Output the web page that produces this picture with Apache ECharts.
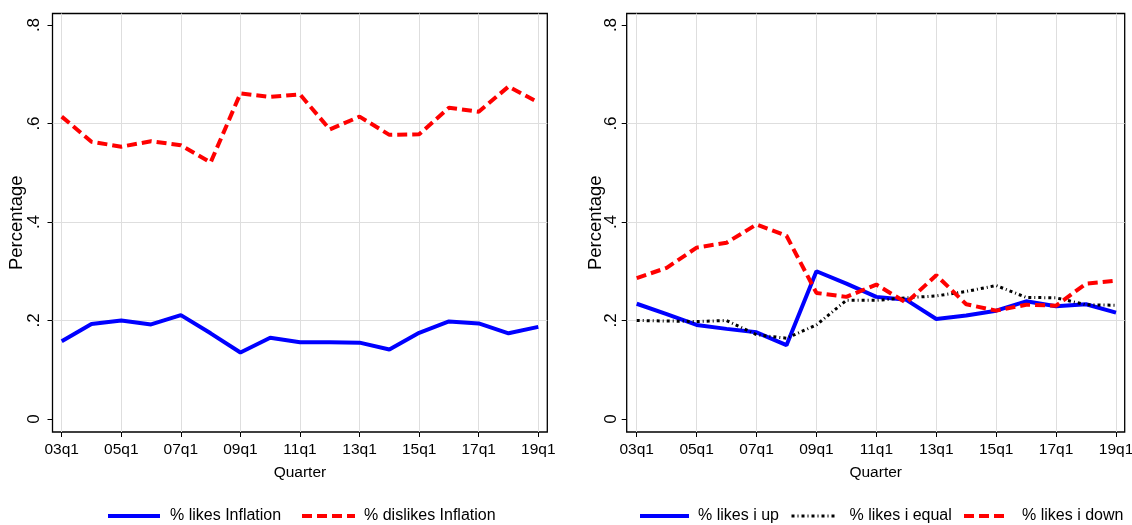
<!DOCTYPE html>
<html><head><meta charset="utf-8">
<script src="https://cdn.jsdelivr.net/npm/echarts@6/dist/echarts.min.js"></script>
<style>html,body{margin:0;padding:0;background:#fff}#c{width:1132px;height:525px}</style>
</head><body><div id="c"></div>
<script>
// ---- data ----
const quarters = ['03q1','04q1','05q1','06q1','07q1','08q1','09q1','10q1','11q1','12q1','13q1','14q1','15q1','16q1','17q1','18q1','19q1'];
const tickQuarters = ['03q1','05q1','07q1','09q1','11q1','13q1','15q1','17q1','19q1'];
const yTicks = [0, 0.2, 0.4, 0.6, 0.8];
const yTickLabels = ['0', '.2', '.4', '.6', '.8'];
const yGridTicks = [0.2, 0.4, 0.6];

const likesInflation    = [0.158,0.193,0.200,0.192,0.211,0.174,0.135,0.165,0.156,0.156,0.155,0.141,0.175,0.198,0.194,0.174,0.187];
const dislikesInflation = [0.614,0.563,0.553,0.564,0.556,0.521,0.661,0.654,0.659,0.588,0.614,0.577,0.578,0.632,0.624,0.675,0.643];

const likesIUp    = [0.234,0.213,0.191,0.183,0.176,0.150,0.300,0.275,0.248,0.242,0.203,0.210,0.220,0.239,0.229,0.233,0.216];
const likesIEqual = [0.200,0.199,0.198,0.200,0.171,0.164,0.191,0.241,0.241,0.246,0.250,0.259,0.271,0.247,0.246,0.232,0.231];
const likesIDown  = [0.286,0.307,0.348,0.358,0.395,0.372,0.256,0.248,0.273,0.236,0.292,0.233,0.220,0.232,0.230,0.275,0.281];

// ---- helpers ----
const FONT = '"Liberation Sans", Arial, sans-serif';
const pts = arr => quarters.map((q, i) => [i, arr[i]]);
const xTickIdx = tickQuarters.map(q => quarters.indexOf(q));
const Y_MIN = -0.0264, Y_MAX = 0.8234;

function xAxisFor(gi, min, max) {
  return {
    type: 'value', gridIndex: gi, min: min, max: max,
    axisLine: { show: false, onZero: false },
    axisTick: { show: true, length: 5, lineStyle: { color: '#000', width: 1 }, customValues: xTickIdx },
    axisLabel: { customValues: xTickIdx, formatter: v => quarters[Math.round(v)], color: '#000',
                 fontFamily: FONT, fontSize: 15.5, margin: 10, hideOverlap: false },
    splitLine: { show: true, lineStyle: { color: '#dedede', width: 1 } },
    name: 'Quarter', nameLocation: 'middle', nameGap: 33, nameMoveOverlap: false,
    nameTextStyle: { color: '#000', fontFamily: FONT, fontSize: 15.5 }
  };
}
function yAxesFor(gi, labelMargin, nameGap) {
  return [{
    type: 'value', gridIndex: gi, min: Y_MIN, max: Y_MAX,
    axisLine: { show: false, onZero: false },
    axisTick: { show: true, length: 5, lineStyle: { color: '#000', width: 1 }, customValues: yTicks },
    axisLabel: { customValues: yTicks, rotate: 90, color: '#000', fontFamily: FONT, fontSize: 17, margin: labelMargin,
                 formatter: v => yTickLabels[yTicks.findIndex(t => Math.abs(t - v) < 1e-6)] },
    splitLine: { show: false },
    name: 'Percentage', nameLocation: 'middle', nameGap: nameGap, nameRotate: 90, nameMoveOverlap: false,
    nameTextStyle: { color: '#000', fontFamily: FONT, fontSize: 18.5 }
  }, {
    type: 'value', gridIndex: gi, min: Y_MIN, max: Y_MAX, position: 'left',
    axisLine: { show: false, onZero: false }, axisLabel: { show: false },
    axisTick: { show: false, customValues: yGridTicks },
    splitLine: { show: true, lineStyle: { color: '#dedede', width: 1 } }
  }];
}
const blueStyle  = { color: '#0000ff', width: 4, type: 'solid' };
const redStyle   = { color: '#ff0000', width: 4, type: [10, 5], cap: 'butt' };
const blackStyle = { color: '#000000', width: 3, type: [3, 3, 1, 3], cap: 'butt' };
function line(name, arr, xi, yi, style) {
  return { name: name, type: 'line', xAxisIndex: xi, yAxisIndex: yi, data: pts(arr),
           symbol: 'none', showSymbol: false, lineStyle: style, itemStyle: { color: style.color },
           emphasis: { disabled: true }, z: 3 };
}
function legend(name, left, w, gap, lw) {
  return { data: [name], left: left, top: 508, itemWidth: w, itemHeight: 14, padding: 0,
           itemStyle: { opacity: 0 }, lineStyle: { width: lw },
           textStyle: { color: '#000', fontFamily: FONT, fontSize: 16, padding: [0, 0, 0, gap - 5] },
           selectedMode: false };
}
const gridBase = { top: 13.5, height: 418.5, show: true, borderColor: '#000', borderWidth: 1.3,
                   backgroundColor: 'transparent', containLabel: false, outerBoundsMode: 'none' };

const yL = yAxesFor(0, 10, 26), yR = yAxesFor(1, 7, 21);
const option = {
  animation: false,
  backgroundColor: '#fff',
  grid: [
    Object.assign({ left: 52.5, width: 494.8 }, gridBase),
    Object.assign({ left: 626.7, width: 498 }, gridBase)
  ],
  xAxis: [ xAxisFor(0, -0.309, 16.302), xAxisFor(1, -0.334, 16.29) ],
  yAxis: [ yL[0], yL[1], yR[0], yR[1] ],
  legend: [
    legend('% likes Inflation', 106, 52, 10, 4),
    legend('% dislikes Inflation', 300, 53, 9, 4),
    legend('% likes i up', 638, 49, 9, 4),
    legend('% likes i equal', 790, 45, 13, 3),
    legend('% likes i down', 962, 45, 13, 4)
  ],
  series: [
    line('% likes Inflation', likesInflation, 0, 0, blueStyle),
    line('% dislikes Inflation', dislikesInflation, 0, 0, redStyle),
    line('% likes i up', likesIUp, 1, 2, blueStyle),
    line('% likes i equal', likesIEqual, 1, 2, blackStyle),
    line('% likes i down', likesIDown, 1, 2, redStyle)
  ]
};
const chart = echarts.init(document.getElementById('c'), null, { renderer: 'canvas' });
chart.setOption(option);
</script>
</body></html>
